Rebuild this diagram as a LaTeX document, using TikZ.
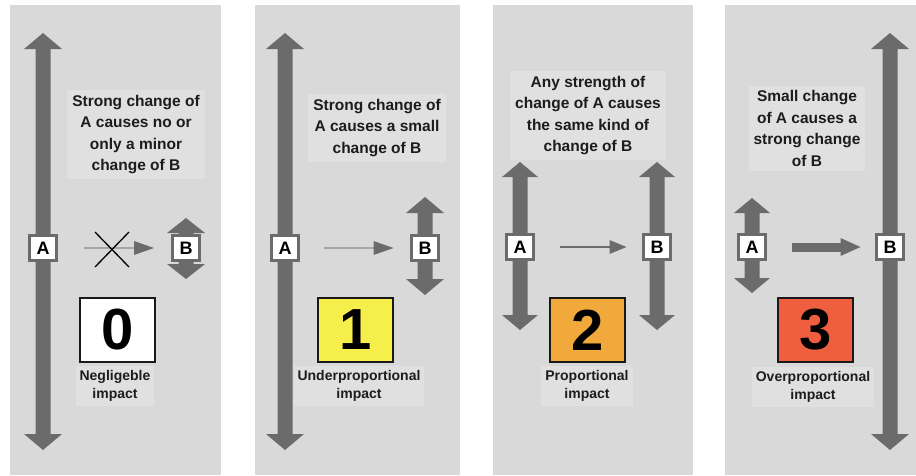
\documentclass[tikz,border=0pt]{standalone}
\usepackage{fontspec}
\setmainfont{Liberation Sans}
\usetikzlibrary{arrows.meta}

\definecolor{panelgray}{HTML}{D9D9D9}
\definecolor{textbg}{HTML}{E0E0E0}
\definecolor{arrowgray}{HTML}{6B6B6B}
\definecolor{linegray}{HTML}{A6A6A6}
\definecolor{inkgray}{HTML}{1C1C1C}
\definecolor{lvlzero}{HTML}{FFFFFF}
\definecolor{lvlone}{HTML}{F6EE4A}
\definecolor{lvltwo}{HTML}{F2A93C}
\definecolor{lvlthree}{HTML}{EF5F3F}

% vertical double-headed block arrow: x, top y, bottom y, half shaft, half head, head length
\newcommand{\dblarrow}[6]{%
  \fill[arrowgray] (#1,#2) -- ({#1+#5},{#2+#6}) -- ({#1+#4},{#2+#6})
    -- ({#1+#4},{#3-#6}) -- ({#1+#5},{#3-#6}) -- (#1,#3)
    -- ({#1-#5},{#3-#6}) -- ({#1-#4},{#3-#6}) -- ({#1-#4},{#2+#6})
    -- ({#1-#5},{#2+#6}) -- cycle;}

\tikzset{
  caption/.style={fill=textbg, inner sep=5pt, align=center, text=inkgray,
    font=\bfseries\fontsize{15.5}{21.5}\selectfont},
  impactlabel/.style={fill=textbg, inner sep=4pt, align=center, text=inkgray,
    font=\bfseries\fontsize{14}{18}\selectfont},
  varbox/.style={draw=arrowgray, line width=3pt, fill=white, minimum width=27pt,
    minimum height=25pt, inner sep=0pt, text=black,
    font=\bfseries\fontsize{18}{18}\selectfont},
  levelbox/.style={draw=black!90, line width=2pt, minimum width=75pt,
    minimum height=64pt, inner sep=0pt, text=black,
    font=\bfseries\fontsize{58}{58}\selectfont},
  weakflow/.style={draw=linegray, line width=2pt,
    -{Triangle[length=20pt,width=14pt,line width=0pt,color=arrowgray]}},
  midflow/.style={draw=arrowgray, line width=2.5pt,
    -{Triangle[length=17pt,width=14pt,line width=0pt,color=arrowgray]}},
  strongflow/.style={draw=arrowgray, line width=9pt,
    -{Triangle[length=20pt,width=18pt,line width=0pt,color=arrowgray]}},
  crossline/.style={draw=black, line width=1.3pt}
}

\begin{document}
\begin{tikzpicture}[x=1pt, y=-1pt]
  \useasboundingbox (0,0) rectangle (916,475);
  \fill[white] (0,0) rectangle (916,475);

  % panel backgrounds
  \fill[panelgray] (10,5) rectangle (221,475);
  \fill[panelgray] (255,5) rectangle (460,475);
  \fill[panelgray] (493,5) rectangle (693,475);
  \fill[panelgray] (725,5) rectangle (916,475);

  % ---------- 0: negligible impact ----------
  \node[caption] (c0) at (136,134.5) {Strong change of\\A causes no or\\only a minor\\change of B};
  \dblarrow{43}{33}{450}{7.5}{19}{16}
  \dblarrow{186}{218}{279}{7.5}{19}{15}
  \node[varbox] (a0) at (43,248) {A};
  \node[varbox] (b0) at (186,248) {B};
  \draw[weakflow, shorten <=25.5pt, shorten >=17pt] (a0) -- (b0);
  \coordinate (x0a) at (95,232);
  \coordinate (x0b) at (129,267);
  \coordinate (x0c) at (95,267);
  \coordinate (x0d) at (129,232);
  \draw[crossline] (x0a) -- (x0b);
  \draw[crossline] (x0c) -- (x0d);
  \node[levelbox, fill=lvlzero] (l0) at (117.5,330) {0};
  \node[impactlabel] (t0) at (115,386) {Negligeble\\impact};

  % ---------- 1: underproportional impact ----------
  \node[caption] (c1) at (377,128) {Strong change of\\A causes a small\\change of B};
  \dblarrow{285}{33}{450}{7.5}{19}{16}
  \dblarrow{425}{197}{295}{7.5}{19}{16}
  \node[varbox] (a1) at (285,248) {A};
  \node[varbox] (b1) at (425,248) {B};
  \draw[weakflow, shorten <=23.5pt, shorten >=16.5pt] (a1) -- (b1);
  \node[levelbox, fill=lvlone] (l1) at (355.5,330) {1};
  \node[impactlabel] (t1) at (359,386) {Underproportional\\impact};

  % ---------- 2: proportional impact ----------
  \node[caption] (c2) at (588,115.5) {Any strength of\\change of A causes\\the same kind of\\change of B};
  \dblarrow{520}{162}{330}{7.5}{18}{15}
  \dblarrow{657}{162}{330}{7.5}{18}{15}
  \node[varbox] (a2) at (520,247) {A};
  \node[varbox] (b2) at (657,247) {B};
  \draw[midflow, shorten <=24.5pt, shorten >=15.5pt] (a2) -- (b2);
  \node[levelbox, fill=lvltwo] (l2) at (587.5,330) {2};
  \node[impactlabel] (t2) at (587,386) {Proportional\\impact};

  % ---------- 3: overproportional impact ----------
  \node[caption] (c3) at (807,128.5) {Small change\\of A causes a\\strong change\\of B};
  \dblarrow{752}{198}{293}{7.5}{18}{15}
  \dblarrow{890}{33}{450}{7.5}{19}{16}
  \node[varbox] (a3) at (752,247) {A};
  \node[varbox] (b3) at (890,247) {B};
  \draw[strongflow, shorten <=24.5pt, shorten >=14.5pt] (a3) -- (b3);
  \node[levelbox, fill=lvlthree] (l3) at (815.5,330) {3};
  \node[impactlabel] (t3) at (813,387) {Overproportional\\impact};
\end{tikzpicture}
\end{document}
